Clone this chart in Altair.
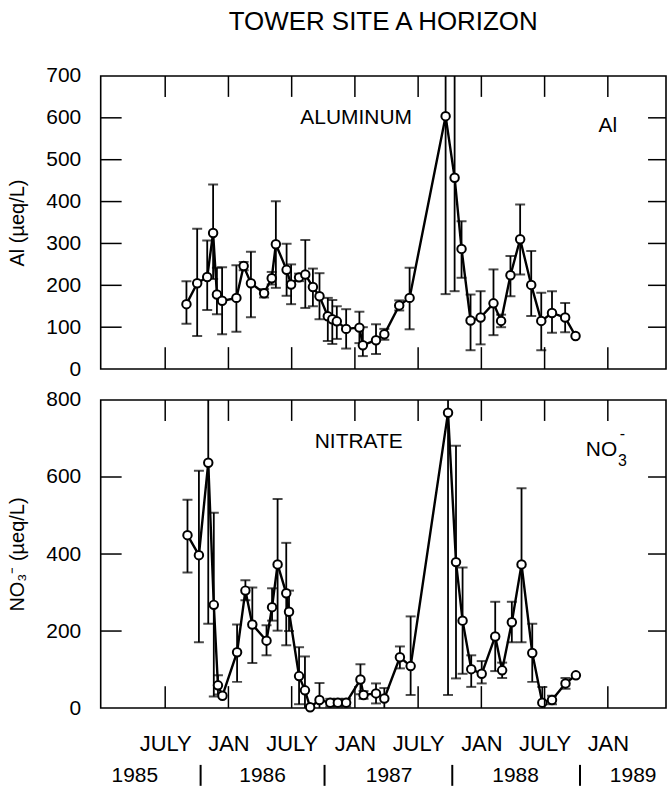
import altair as alt
import pandas as pd

FONT = "Liberation Sans"

# ---------------- data ----------------
al_dates = ["1985-09-02", "1985-10-03", "1985-11-01", "1985-11-18", "1985-11-29", "1985-12-14",
            "1986-01-24", "1986-02-14", "1986-03-07", "1986-04-14", "1986-05-06", "1986-05-18",
            "1986-06-18", "1986-07-01", "1986-07-24", "1986-08-11", "1986-09-02", "1986-09-21",
            "1986-10-15", "1986-10-28", "1986-11-10", "1986-12-07", "1987-01-14", "1987-01-24",
            "1987-03-03", "1987-03-27", "1987-05-09", "1987-06-08", "1987-09-20", "1987-10-16",
            "1987-11-05", "1987-12-01", "1987-12-30", "1988-02-05", "1988-02-27", "1988-03-25",
            "1988-04-22", "1988-05-24", "1988-06-22", "1988-07-23", "1988-08-30", "1988-09-29"]
al_values = [155, 205, 220, 325, 178, 163, 170, 246, 205, 181, 217, 298, 237, 202, 219, 226,
             196, 174, 126, 119, 114, 96, 99, 57, 69, 83, 152, 170, 604, 457, 287, 116, 123,
             157, 115, 224, 310, 201, 115, 134, 123, 79]
al_low = [108, 79, 141, 215, 131, 83, 89, 236, 124, 171, 202, 194, 175, 155, 210, 146, 150,
          119, 67, 60, 72, 49, 62, 31, 36, 70, 140, 95, 179, 186, 218, 45, 59, 81, 100, 174,
          226, 127, 45, 87, 88, 79]
al_high = [210, 335, 307, 441, 242, 243, 248, 256, 280, 191, 232, 401, 299, 250, 228, 308,
           240, 229, 170, 165, 150, 143, 137, 100, 107, 96, 164, 242, 1029, 728, 353, 178,
           186, 238, 130, 270, 393, 282, 182, 186, 158, 79]

no3_dates = ["1985-09-05", "1985-10-08", "1985-11-04", "1985-11-20", "1985-12-02", "1985-12-15",
             "1986-01-26", "1986-02-19", "1986-03-11", "1986-04-21", "1986-05-07", "1986-05-23",
             "1986-06-17", "1986-06-25", "1986-07-24", "1986-08-10", "1986-08-25", "1986-09-21",
             "1986-10-22", "1986-11-13", "1986-12-07", "1987-01-17", "1987-01-26", "1987-03-03",
             "1987-03-27", "1987-05-11", "1987-06-11", "1987-09-27", "1987-10-20", "1987-11-08",
             "1987-12-03", "1988-01-02", "1988-02-10", "1988-03-01", "1988-03-29", "1988-04-26",
             "1988-05-27", "1988-06-25", "1988-07-23", "1988-08-31", "1988-09-30"]
no3_values = [449, 397, 637, 268, 59, 32, 145, 305, 217, 175, 262, 373, 298, 250, 83, 46, 2,
              21, 14, 14, 14, 74, 34, 38, 25, 132, 109, 767, 379, 227, 101, 89, 186, 98, 223,
              373, 143, 14, 21, 64, 85]
no3_low = [352, 171, 219, 30, 35, 32, 68, 280, 117, 137, 227, 201, 163, 200, 10, 0, 2, 0, 4,
           4, 4, 36, 24, 12, 0, 103, 34, 34, 77, 89, 55, 64, 96, 78, 171, 171, 68, 0, 10, 50, 85]
no3_high = [541, 616, 1055, 507, 85, 32, 217, 332, 313, 215, 311, 543, 429, 305, 158, 134, 2,
            65, 24, 24, 24, 114, 44, 64, 52, 160, 238, 1500, 681, 365, 137, 122, 276, 118, 276,
            571, 219, 55, 32, 78, 85]

x_ticks = [1985.5, 1986.0, 1986.5, 1987.0, 1987.5, 1988.0, 1988.5, 1989.0]
year_labels = ["1985", "1986", "1987", "1988", "1989"]
year_label_pos = [1985.26, 1986.27, 1987.27, 1988.27, 1989.2]
year_sep_pos = [1985.78, 1986.76, 1987.77, 1988.78]

al_label_ticks = [0, 100, 200, 300, 400, 500, 600, 700]
al_inner_ticks = [100, 200, 300, 400, 500, 600]
no3_label_ticks = [0, 200, 400, 600, 800]
no3_inner_ticks = [200, 400, 600]

al_notes = ["ALUMINUM", "Al"]
al_notes_x = [1987.01, 1989.0]
al_notes_y = [600, 580]
al_notes_size = [21, 21]

no3_notes = ["NITRATE", "NO", "3", "-"]
no3_notes_x = [1987.03, 1988.95, 1989.115, 1989.115]
no3_notes_y = [690, 670, 642, 712]
no3_notes_size = [21, 21, 16, 16]

# ---------------- layout ----------------
W = 567
X_DOMAIN = [1984.99, 1989.46]
LABEL_SIZE = 21


def to_year(dates):
    d = pd.to_datetime(pd.Series(dates))
    return (d.dt.year + (d.dt.dayofyear - 1) / 365.25).tolist()


def panel(dates, vals, lo, hi, ymax, label_ticks, inner_ticks, ytitle, H, bottom,
          notes, notes_x, notes_y, notes_size):
    df = pd.DataFrame({"t": to_year(dates), "v": vals, "lo": lo, "hi": hi})
    xs = alt.Scale(domain=X_DOMAIN, nice=False, zero=False)
    ys = alt.Scale(domain=[0, ymax], nice=False)
    if bottom:
        xaxis = alt.Axis(values=x_ticks,
                         labelExpr="datum.value % 1 == 0 ? 'JAN' : 'JULY'",
                         ticks=False, domain=False, grid=False, title=None,
                         labelPadding=26, labelFontSize=22, labelFont=FONT,
                         labelColor="black", labelFlush=False, labelOverlap=False)
    else:
        xaxis = None
    yaxis = alt.Axis(values=label_ticks, ticks=False, domain=False, grid=False,
                     labelPadding=20, labelFontSize=LABEL_SIZE, labelFont=FONT,
                     labelColor="black",
                     title=ytitle, titleFont=FONT, titleFontSize=20, titleFontWeight="normal",
                     titleColor="black", titlePadding=18, labelFlush=False, labelOverlap=False)

    def X(field):
        return alt.X(field, type="quantitative", scale=xs, axis=xaxis)

    def Y(field):
        return alt.Y(field, type="quantitative", scale=ys, axis=yaxis)

    base = alt.Chart(df)
    bars = base.mark_rule(clip=True, color="black", strokeWidth=1.8).encode(
        x=X("t"), y=Y("lo"), y2="hi")
    caps_hi = base.transform_filter("datum.hi > datum.v").mark_tick(
        clip=True, color="black", orient="horizontal", size=10, thickness=2).encode(
        x=X("t"), y=Y("hi"))
    caps_lo = base.transform_filter("datum.lo < datum.v && datum.lo > 0").mark_tick(
        clip=True, color="black", orient="horizontal", size=10, thickness=2).encode(
        x=X("t"), y=Y("lo"))
    line = base.mark_line(clip=True, color="black", strokeWidth=2.4).encode(
        x=X("t"), y=Y("v"))
    pts = base.mark_point(shape="circle", filled=True, fill="white", stroke="black",
                          strokeWidth=2, size=72, opacity=1).encode(x=X("t"), y=Y("v"))

    ydf = pd.DataFrame({"y": inner_ticks})
    left = alt.Chart(ydf).mark_rule(color="black", strokeWidth=1.5).encode(
        y=Y("y"), x=alt.value(0), x2=alt.value(21))
    right = alt.Chart(ydf).mark_rule(color="black", strokeWidth=1.5).encode(
        y=Y("y"), x=alt.value(W - 18), x2=alt.value(W))
    xdf = pd.DataFrame({"t": x_ticks})
    top = alt.Chart(xdf).mark_rule(color="black", strokeWidth=1.5).encode(
        x=X("t"), y=alt.value(0), y2=alt.value(21))
    bot = alt.Chart(xdf).mark_rule(color="black", strokeWidth=1.5).encode(
        x=X("t"), y=alt.value(H - 22), y2=alt.value(H))

    ndf = pd.DataFrame({"t": notes_x, "y": notes_y, "txt": notes, "s": notes_size})
    txt = alt.Chart(ndf).mark_text(font=FONT, color="black", baseline="middle",
                                   align="center").encode(
        x=X("t"), y=Y("y"), text="txt:N",
        size=alt.Size("s:Q", scale=None, legend=None))

    layers = [bars, caps_hi, caps_lo, line, pts, left, right, top, bot, txt]

    if bottom:
        ydf2 = pd.DataFrame({"t": year_label_pos, "txt": year_labels})
        years = alt.Chart(ydf2).mark_text(font=FONT, fontSize=LABEL_SIZE, color="black",
                                          baseline="middle").encode(
            x=X("t"), y=alt.value(H + 68), text="txt:N")
        sdf = pd.DataFrame({"t": year_sep_pos})
        seps = alt.Chart(sdf).mark_rule(color="black", strokeWidth=2).encode(
            x=X("t"), y=alt.value(H + 57), y2=alt.value(H + 78))
        layers += [years, seps]

    return alt.layer(*layers).properties(width=W, height=H)


top_panel = panel(al_dates, al_values, al_low, al_high, 700, al_label_ticks, al_inner_ticks,
                  "Al (µeq/L)", 294, False, al_notes, al_notes_x, al_notes_y, al_notes_size)
bottom_panel = panel(no3_dates, no3_values, no3_low, no3_high, 800, no3_label_ticks,
                     no3_inner_ticks, "NO₃⁻ (µeq/L)", 309, True, no3_notes, no3_notes_x,
                     no3_notes_y, no3_notes_size)

chart = alt.vconcat(top_panel, bottom_panel, spacing=8).properties(
    title=alt.Title("TOWER SITE A HORIZON", fontSize=26, font=FONT, fontWeight="normal",
                    color="black", anchor="middle", offset=29, dx=46),
    padding={"left": 7, "top": 8, "right": 0, "bottom": 0},
    background="white",
).configure_view(stroke="black", strokeWidth=1.6)

chart.save("out.html", embed_options={"renderer": "svg", "actions": False})
